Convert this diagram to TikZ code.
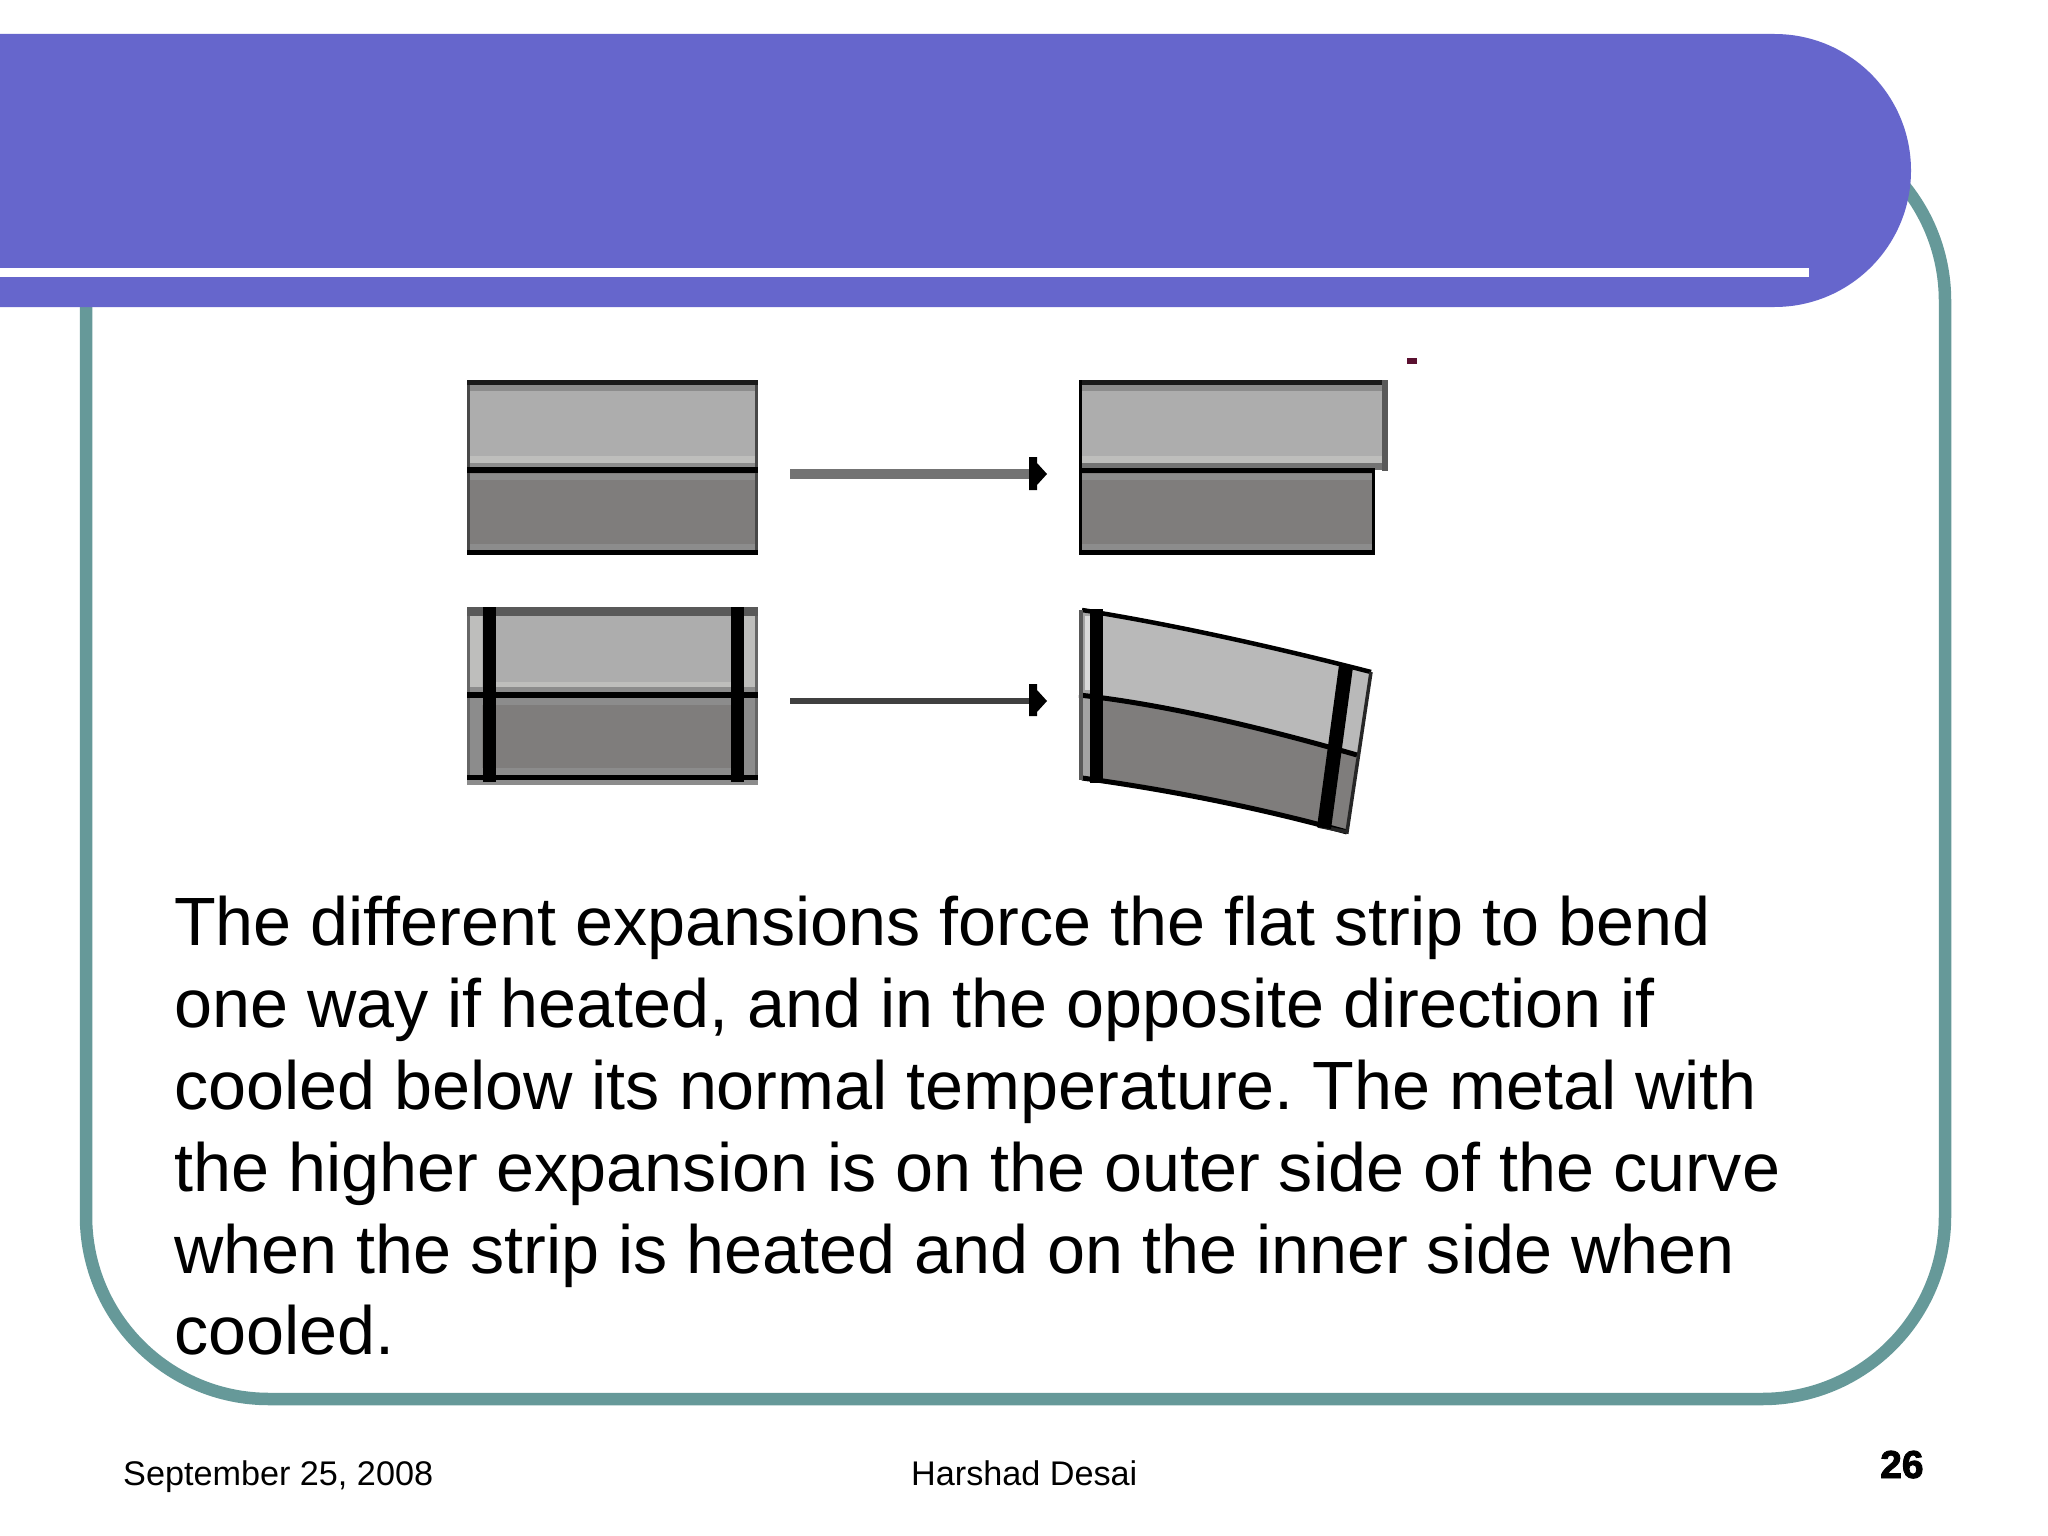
\documentclass[tikz,border=0pt]{standalone}
\usepackage{fontspec}
\setmainfont{Liberation Sans}
\newfontfamily\numfont[BoldFeatures={FakeBold=2.2}]{Liberation Sans}
\definecolor{banner}{HTML}{6666CC}
\definecolor{frameteal}{HTML}{669999}
\definecolor{lightmetal}{HTML}{ADADAD}
\definecolor{darkmetal}{HTML}{7F7D7C}
\definecolor{halflight}{HTML}{BEBEBC}
\definecolor{halfband}{HTML}{8C8C8C}
\definecolor{edgedark}{HTML}{1A1A1A}
\definecolor{maroon}{HTML}{5A1030}
\tikzset{
  x=1pt,y=-1pt,
  bodytext/.style={anchor=base west,inner sep=0pt,font=\fontsize{68.3}{80}\selectfont},
  foottext/.style={anchor=base west,inner sep=0pt,font=\fontsize{34.2}{40}\selectfont},
  blackbar/.style={fill=black},
  arrowshaft/.style={draw=#1,line cap=butt},
  arrowhead/.style={fill=black},
}
\frenchspacing
\begin{document}
\begin{tikzpicture}
\useasboundingbox (0,0) rectangle (2048,1536);
\fill[white] (0,0) rectangle (2048,1536);
% outer frame
\draw[frameteal,line width=12.5pt,rounded corners=183pt] (86,118) rectangle (1945,1399);
% banner
\fill[banner,rounded corners=136.5pt] (-300,34) -- (1911,34) -- (1911,307) -- (-300,307) -- cycle;
\fill[white] (0,268) rectangle (1809,277);

% ---- top left strip
\fill[lightmetal] (469,382) rectangle (756,470);
\fill[darkmetal] (469,470) rectangle (756,553);
\fill[halfband] (469,385) rectangle (756,391);
\fill[halflight] (469,456) rectangle (756,463);
\fill[halfband] (469,463) rectangle (756,468);
\fill[halfband] (469,474) rectangle (756,480);
\fill[halfband] (469,544) rectangle (756,550);
\draw[draw=edgedark!80!white,line width=3pt] (468.5,381.5) rectangle (756.5,553);
\fill[edgedark] (467,380) rectangle (758,385);
\fill[black] (467,467) rectangle (758,473);
\fill[black] (467,550) rectangle (758,555);

% ---- bottom left strip
\fill[lightmetal] (469,609) rectangle (756,695);
\fill[darkmetal] (469,695) rectangle (756,778);
\fill[halflight] (469,616) rectangle (482,687);
\fill[halflight] (744,616) rectangle (756,687);
\fill[halflight] (496,682) rectangle (731,687);
\fill[halfband] (469,687) rectangle (756,692);
\fill[halfband] (469,697) rectangle (756,705);
\fill[halfband] (469,697) rectangle (482,780);
\fill[halfband] (744,697) rectangle (756,780);
\fill[halfband] (469,768) rectangle (756,775);
\draw[draw=black!60,line width=3pt] (468.5,609) rectangle (756.5,780);
\fill[black!65] (467,607) rectangle (758,616);
\fill[black] (467,692) rectangle (758,698);
\fill[black] (467,775) rectangle (758,780);
\fill[halfband] (467,780) rectangle (758,785);
\fill[blackbar] (483,607) rectangle (496,782);
\fill[blackbar] (731,607) rectangle (744,782);

% ---- arrows
\coordinate (arrowOneStart) at (790,474);
\coordinate (arrowOneEnd) at (1030,474);
\coordinate (arrowTwoStart) at (790,701);
\coordinate (arrowTwoEnd) at (1030,701);
\draw[arrowshaft=black!55,line width=10pt] (arrowOneStart) -- (arrowOneEnd);
\draw[arrowshaft=black!75,line width=6pt] (arrowTwoStart) -- (arrowTwoEnd);
\fill[arrowhead] (1029,457) -- (1037,457) -- (1037,463) -- (1047,474) -- (1037,485) -- (1037,490) -- (1029,490) -- cycle;
\fill[arrowhead] (1029,684) -- (1037,684) -- (1037,690) -- (1047,701) -- (1037,712) -- (1037,716) -- (1029,716) -- cycle;

% ---- top right strip
\fill[lightmetal] (1081,382) rectangle (1385,468);
\fill[halfband] (1081,385) rectangle (1385,391);
\fill[halflight] (1081,456) rectangle (1382,463);
\fill[darkmetal] (1081,470) rectangle (1373,553);
\fill[halfband] (1081,474) rectangle (1373,480);
\fill[halfband] (1081,544) rectangle (1373,550);
\fill[black!55] (1081,463) rectangle (1388,470);
\fill[edgedark] (1079,380) rectangle (1388,385);
\fill[black!65] (1382,380) rectangle (1388,471);
\fill[black] (1079,380) rectangle (1082,555);
\fill[black] (1079,468) rectangle (1375,473);
\fill[black] (1372,468) rectangle (1375,555);
\fill[black] (1079,550) rectangle (1375,555);
\fill[maroon] (1407,358) rectangle (1417,364);

% ---- bottom right bent strip
\fill[lightmetal!85!white] (1090,612) .. controls (1170,624) and (1270,646) .. (1371,672)
   -- (1357,755) .. controls (1270,730) and (1170,705) .. (1090,696) -- cycle;
\fill[darkmetal] (1090,696) .. controls (1170,705) and (1270,730) .. (1357,755)
   -- (1347,832) .. controls (1260,808) and (1170,790) .. (1090,780) -- cycle;
\fill[halfband!80!white] (1079,611) rectangle (1090,780);
\fill[white!85!black] (1085,616) rectangle (1090,690);
\draw[black,line width=4.5pt] (1082,610) .. controls (1170,624) and (1270,646) .. (1371,672);
\draw[black,line width=5pt] (1079,695) .. controls (1170,705) and (1270,730) .. (1357,755);
\draw[black,line width=5pt] (1082,778) .. controls (1170,790) and (1260,808) .. (1347,832);
\draw[black!85,line width=3.5pt] (1371,672) -- (1347,832) -- (1318,826);
\fill[black!65] (1079,610) rectangle (1083,780);
\fill[blackbar] (1090,609) rectangle (1103,783);
\fill[blackbar] (1339,665) -- (1353,667) -- (1331,829) -- (1317,827) -- cycle;

% ---- body text
\node[bodytext] (lineA) at (174,945) {The different expansions force the flat strip to bend};
\node[bodytext] (lineB) at (174,1027) {one way if heated, and in the opposite direction if};
\node[bodytext] (lineC) at (174,1109.5) {cooled below its normal temperature. The metal with};
\node[bodytext] (lineD) at (174,1191) {the higher expansion is on the outer side of the curve};
\node[bodytext] (lineE) at (174,1273) {when the strip is heated and on the inner side when};
\node[bodytext] (lineF) at (174,1354.5) {cooled.};

% ---- footer
\node[foottext] (dateText) at (123,1485) {September 25, 2008};
\node[foottext] (authorText) at (911,1485) {Harshad Desai};
\node[anchor=base west,inner sep=0pt,font=\numfont\bfseries\fontsize{39}{40}\selectfont] (pageNo) at (1880,1478) {26};
\end{tikzpicture}
\end{document}
